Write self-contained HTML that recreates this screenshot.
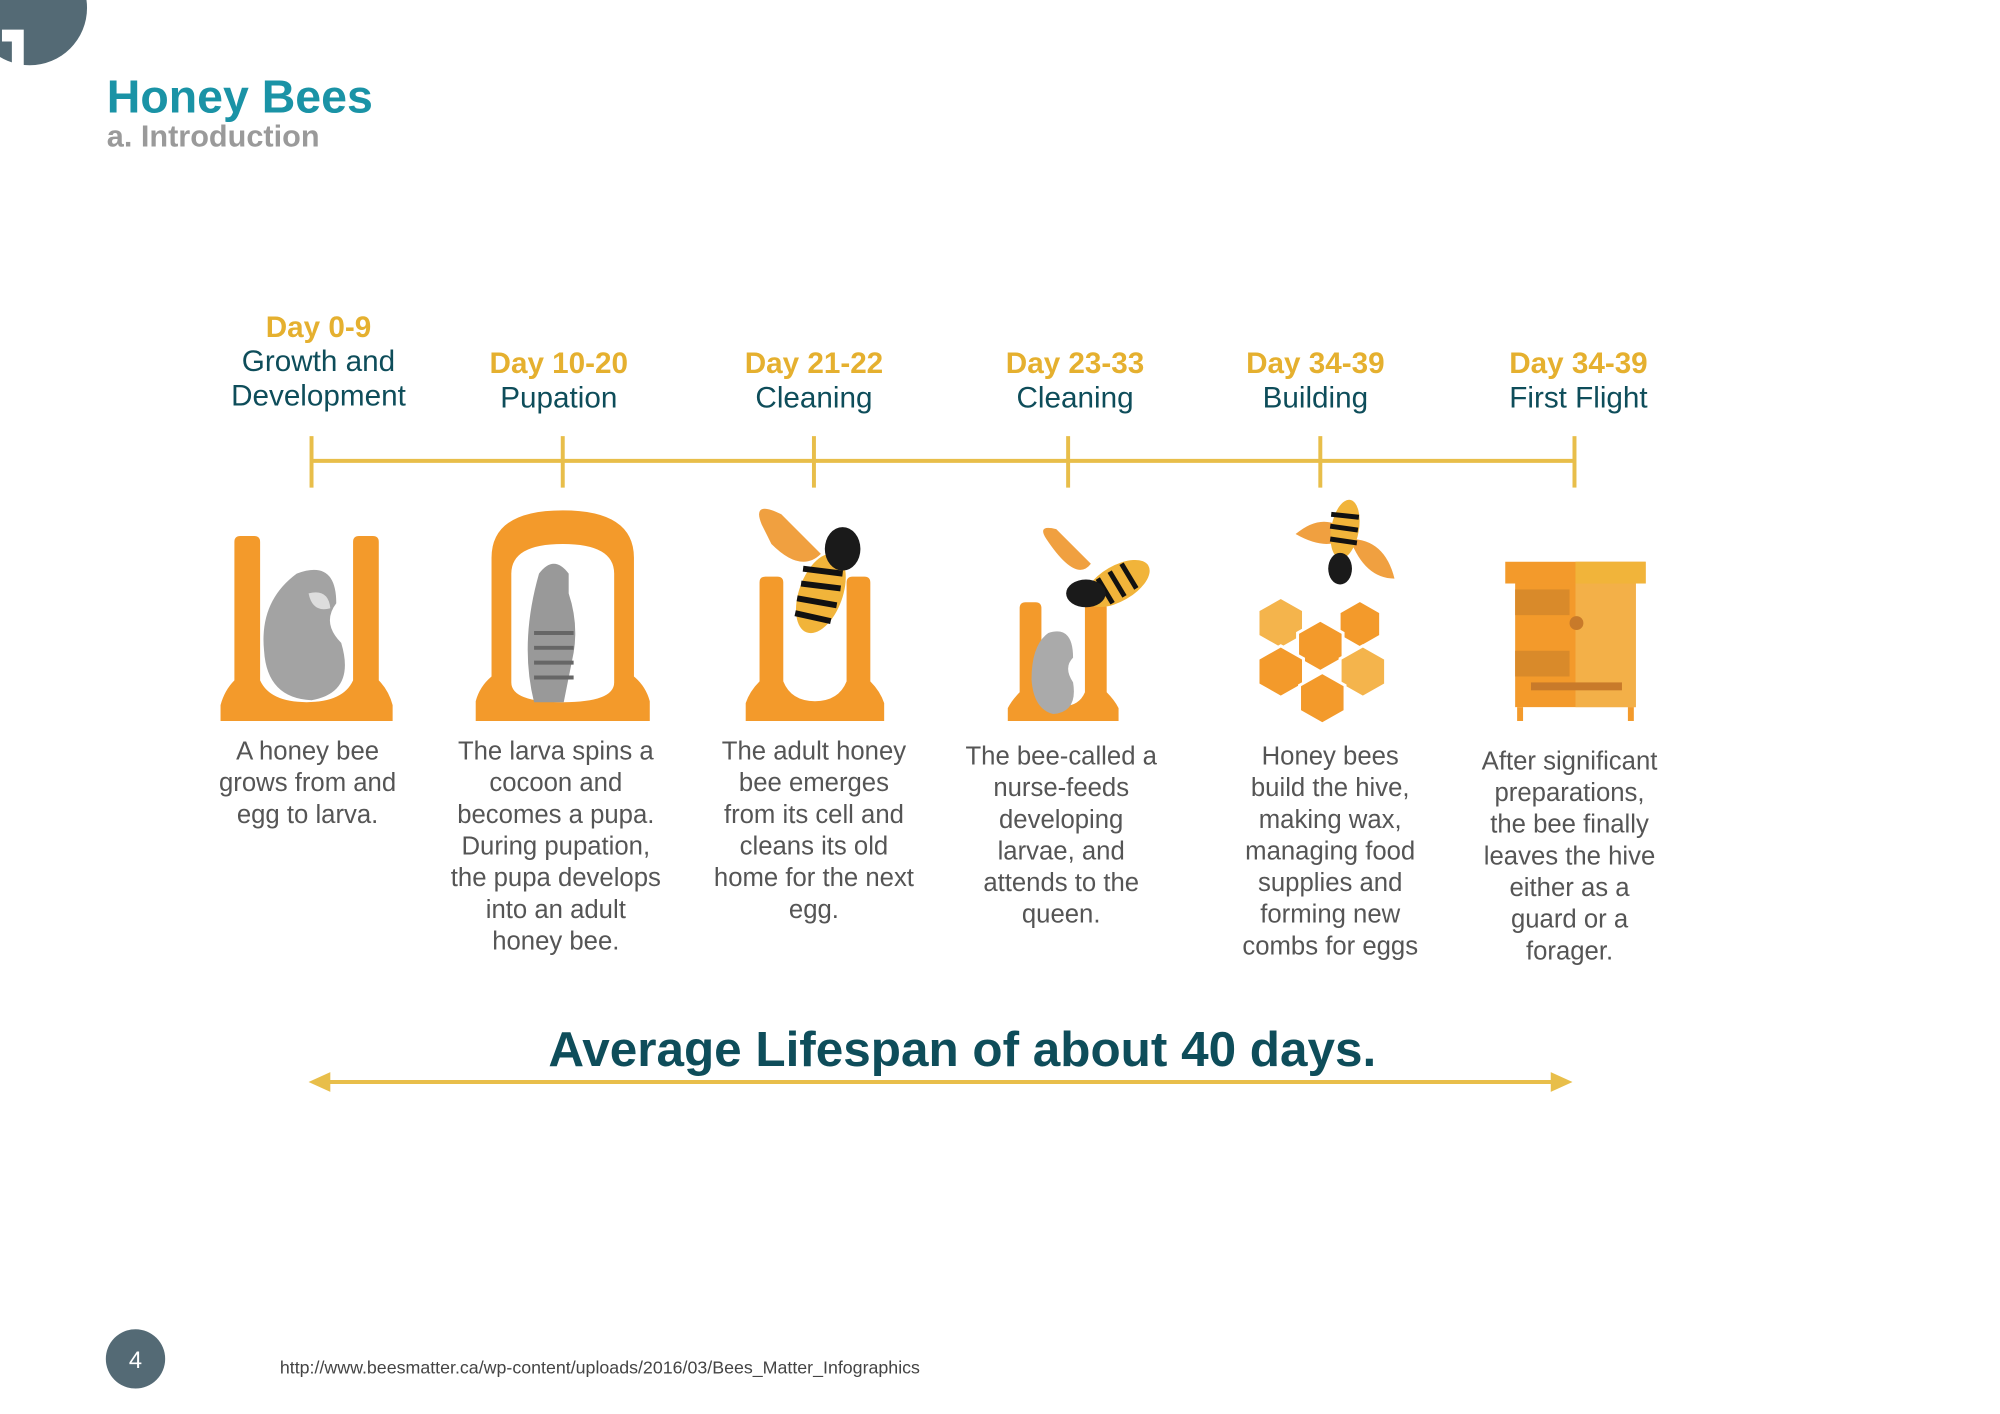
<!DOCTYPE html>
<html><head><meta charset="utf-8"><style>
html,body{margin:0;padding:0;background:#fff;}
svg{display:block;font-family:"Liberation Sans",sans-serif;}
</style></head><body>
<svg width="2000" height="1414" viewBox="0 0 2000 1414" xmlns="http://www.w3.org/2000/svg">
<g transform="scale(0.989)">
<circle cx="30" cy="8" r="58" fill="#546a75"/>
<path d="M2 30 h22 v36 h-12 v-24 h-10z" fill="#fff"/>
<text x="108" y="114" font-size="47" font-weight="bold" fill="#1a93a6">Honey Bees</text>
<text x="108" y="148" font-size="31" font-weight="bold" fill="#9a9a9a">a. Introduction</text>

<g font-size="30" text-anchor="middle">
<text x="322" y="341" font-weight="bold" fill="#e5b02f">Day 0-9</text>
<text x="322" y="375" fill="#0e4d5a">Growth and</text>
<text x="322" y="410" fill="#0e4d5a">Development</text>
<text x="565" y="377" font-weight="bold" fill="#e5b02f">Day 10-20</text>
<text x="565" y="412" fill="#0e4d5a">Pupation</text>
<text x="823" y="377" font-weight="bold" fill="#e5b02f">Day 21-22</text>
<text x="823" y="412" fill="#0e4d5a">Cleaning</text>
<text x="1087" y="377" font-weight="bold" fill="#e5b02f">Day 23-33</text>
<text x="1087" y="412" fill="#0e4d5a">Cleaning</text>
<text x="1330" y="377" font-weight="bold" fill="#e5b02f">Day 34-39</text>
<text x="1330" y="412" fill="#0e4d5a">Building</text>
<text x="1596" y="377" font-weight="bold" fill="#e5b02f">Day 34-39</text>
<text x="1596" y="412" fill="#0e4d5a">First Flight</text>
</g>

<g stroke="#e8be4a" stroke-width="4">
<line x1="315" y1="466" x2="1592" y2="466"/>
<line x1="315" y1="441" x2="315" y2="493"/>
<line x1="569" y1="441" x2="569" y2="493"/>
<line x1="823" y1="441" x2="823" y2="493"/>
<line x1="1080" y1="441" x2="1080" y2="493"/>
<line x1="1335" y1="441" x2="1335" y2="493"/>
<line x1="1592" y1="441" x2="1592" y2="493"/>
</g>

<!-- icon 1 -->
<g fill="#f39a2b">
<path d="M237 548 q0-6 6-6 h14 q6 0 6 6 v140 q10 22 47 22 q37 0 47-22 v-140 q0-6 6-6 h14 q6 0 6 6 v140 q10 10 14 25 v16 h-174 v-16 q4-15 14-25z"/>
</g>
<path d="M300 580 q40-15 40 30 q-15 20 5 40 q15 50-30 58 q-45-2-48-50 q-5-50 33-78z" fill="#a3a3a3"/>
<path d="M312 600 q20-5 22 15 q-18 5-22-15z" fill="#ddd"/>
<!-- icon 2 -->
<path d="M481 729 v-20 q4-15 16-25 v-120 q0-48 72-48 q72 0 72 48 v120 q12 10 16 25 v20z" fill="#f39a2b"/>
<path d="M517 580 q0-30 52-30 q52 0 52 30 v110 q0 20-52 20 q-52 0-52-20z" fill="#fff"/>
<path d="M545 580 q15-20 30 0 v20 q10 30 5 60 l-10 50 h-30 q-15-60 5-130z" fill="#999"/>
<g stroke="#666" stroke-width="4"><line x1="540" y1="640" x2="580" y2="640"/><line x1="540" y1="655" x2="580" y2="655"/><line x1="540" y1="670" x2="580" y2="670"/><line x1="540" y1="685" x2="580" y2="685"/></g>
<!-- icon 3 -->
<path d="M768 589 q0-6 6-6 h12 q6 0 6 6 v100 q8 20 32 20 q24 0 32-20 v-100 q0-6 6-6 h12 q6 0 6 6 v100 q10 10 14 22 v18 h-140 v-18 q4-12 14-22z" fill="#f39a2b"/>
<path d="M770 530 q-10-25 20-10 l40 40 q-20 20-50-10z" fill="#f0a040"/>
<ellipse cx="830" cy="600" rx="22" ry="42" transform="rotate(20 830 600)" fill="#f1b43a"/>
<g stroke="#111" stroke-width="6"><line x1="810" y1="590" x2="850" y2="595"/><line x1="806" y1="605" x2="846" y2="612"/><line x1="804" y1="620" x2="840" y2="628"/><line x1="812" y1="575" x2="852" y2="580"/></g>
<ellipse cx="852" cy="555" rx="18" ry="22" fill="#1a1a1a"/>
<!-- icon 4 -->
<path d="M1031 615 q0-6 6-6 h10 q6 0 6 6 v85 q6 14 22 14 q16 0 22-14 v-85 q0-6 6-6 h10 q6 0 6 6 v85 q8 8 12 16 v13 h-112 v-13 q4-8 12-16z" fill="#f39a2b"/>
<path d="M1060 640 q25-8 25 25 q-10 10 0 25 q5 30-20 32 q-20-5-22-35 q0-35 17-47z" fill="#aaa"/>
<path d="M1058 545 q-10-15 10-10 l35 35 q-15 20-45-25z" fill="#f0a040"/>
<ellipse cx="1130" cy="590" rx="36" ry="18" transform="rotate(-30 1130 590)" fill="#f1b43a"/>
<g stroke="#111" stroke-width="5"><line x1="1110" y1="585" x2="1125" y2="610"/><line x1="1122" y1="578" x2="1137" y2="603"/><line x1="1134" y1="570" x2="1149" y2="595"/></g>
<ellipse cx="1098" cy="600" rx="20" ry="14" fill="#1a1a1a"/>
<!-- icon 5 honeycomb -->
<g fill="#f39a2b" stroke="#fff" stroke-width="3">
<polygon points="1295,604 1318,617 1318,643 1295,656 1272,643 1272,617" fill="#f4b44c"/>
<polygon points="1375,607 1396,619 1396,643 1375,655 1354,643 1354,619"/>
<polygon points="1335,627 1358,640 1358,666 1335,679 1312,666 1312,640"/>
<polygon points="1295,653 1318,666 1318,692 1295,705 1272,692 1272,666"/>
<polygon points="1378,653 1401,666 1401,692 1378,705 1355,692 1355,666" fill="#f4b44c"/>
<polygon points="1337,680 1360,693 1360,719 1337,732 1314,719 1314,693"/>
</g>
<path d="M1310 540 q30-25 55 0 q-20 20-55 0z" fill="#f0a040"/>
<path d="M1365 545 q35 0 45 40 q-30 0-45-40z" fill="#f0a040"/>
<ellipse cx="1360" cy="535" rx="14" ry="30" transform="rotate(10 1360 535)" fill="#f1b43a"/>
<g stroke="#111" stroke-width="5"><line x1="1346" y1="520" x2="1374" y2="523"/><line x1="1345" y1="532" x2="1373" y2="536"/><line x1="1345" y1="545" x2="1372" y2="549"/></g>
<ellipse cx="1355" cy="575" rx="12" ry="16" fill="#1a1a1a"/>
<!-- icon 6 hive -->
<rect x="1522" y="568" width="142" height="22" fill="#f39a2b"/>
<rect x="1593" y="568" width="71" height="22" fill="#f1b43a"/>
<rect x="1532" y="590" width="122" height="125" fill="#f39a2b"/>
<rect x="1593" y="590" width="61" height="125" fill="#f3b048"/>
<rect x="1532" y="596" width="55" height="26" fill="#d98a2a"/>
<rect x="1532" y="658" width="55" height="26" fill="#d98a2a"/>
<circle cx="1594" cy="630" r="7" fill="#c87a2a"/>
<rect x="1548" y="690" width="92" height="8" fill="#c87a2a"/>
<rect x="1534" y="715" width="6" height="14" fill="#f39a2b"/>
<rect x="1646" y="715" width="6" height="14" fill="#f39a2b"/>

<g font-size="26" fill="#555" text-anchor="middle">
<text x="311" y="768">A honey bee</text><text x="311" y="800">grows from and</text><text x="311" y="832">egg to larva.</text>
<text x="562" y="768">The larva spins a</text><text x="562" y="800">cocoon and</text><text x="562" y="832">becomes a pupa.</text><text x="562" y="864">During pupation,</text><text x="562" y="896">the pupa develops</text><text x="562" y="928">into an adult</text><text x="562" y="960">honey bee.</text>
<text x="823" y="768">The adult honey</text><text x="823" y="800">bee emerges</text><text x="823" y="832">from its cell and</text><text x="823" y="864">cleans its old</text><text x="823" y="896">home for the next</text><text x="823" y="928">egg.</text>
<text x="1073" y="773">The bee-called a</text><text x="1073" y="805">nurse-feeds</text><text x="1073" y="837">developing</text><text x="1073" y="869">larvae, and</text><text x="1073" y="901">attends to the</text><text x="1073" y="933">queen.</text>
<text x="1345" y="773">Honey bees</text><text x="1345" y="805">build the hive,</text><text x="1345" y="837">making wax,</text><text x="1345" y="869">managing food</text><text x="1345" y="901">supplies and</text><text x="1345" y="933">forming new</text><text x="1345" y="965">combs for eggs</text>
<text x="1587" y="778">After significant</text><text x="1587" y="810">preparations,</text><text x="1587" y="842">the bee finally</text><text x="1587" y="874">leaves the hive</text><text x="1587" y="906">either as a</text><text x="1587" y="938">guard or a</text><text x="1587" y="970">forager.</text>
</g>

<text x="973" y="1078" font-size="50" font-weight="bold" fill="#0e4d5a" text-anchor="middle">Average Lifespan of about 40 days.</text>
<line x1="320" y1="1094" x2="1580" y2="1094" stroke="#e8be4a" stroke-width="4"/>
<polygon points="312,1094 334,1084 334,1104" fill="#e8be4a"/>
<polygon points="1590,1094 1568,1084 1568,1104" fill="#e8be4a"/>

<circle cx="137" cy="1374" r="30" fill="#546a75"/>
<text x="137" y="1383" font-size="24" fill="#fff" text-anchor="middle">4</text>
<text x="283" y="1389" font-size="18" fill="#444">http://www.beesmatter.ca/wp-content/uploads/2016/03/Bees_Matter_Infographics</text>
</g>
</svg>
</body></html>
